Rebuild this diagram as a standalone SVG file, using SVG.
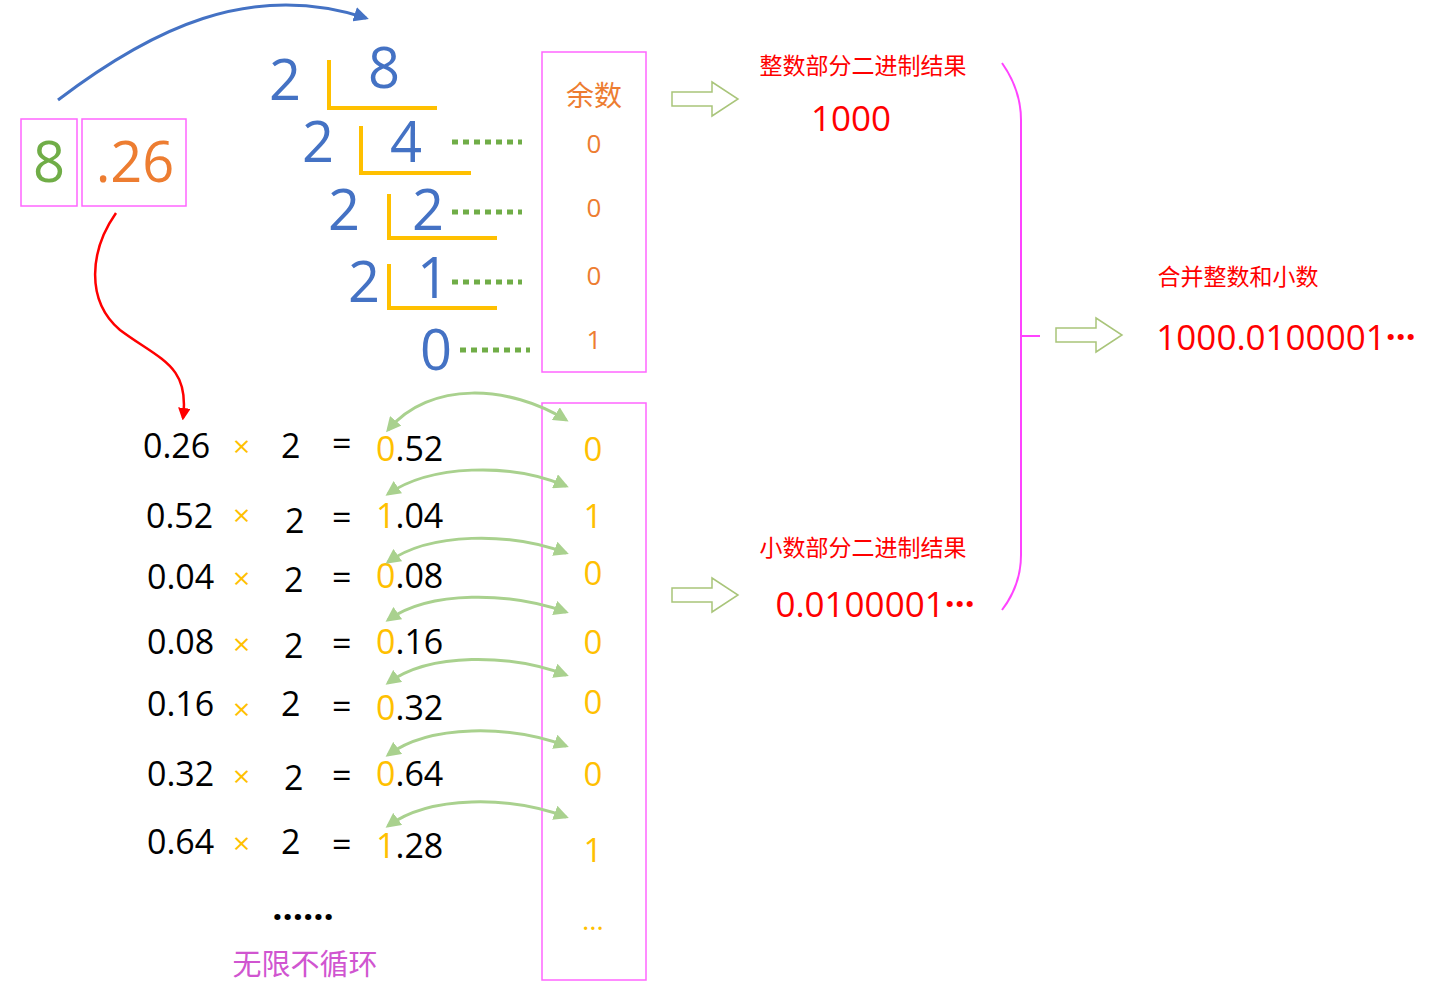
<svg xmlns="http://www.w3.org/2000/svg" width="1447" height="995" viewBox="0 0 1447 995">
<style>
text{font-family:"Open Sans","Liberation Sans","Noto Sans CJK SC",sans-serif}
.bl{fill:#4472C4;font-size:56px;text-anchor:middle}
.yl{stroke:#FFC000;stroke-width:4;fill:none}
.gd{stroke:#70AD47;stroke-width:5;stroke-dasharray:6 5;fill:none}
.pk{fill:none;stroke:#FF66FF;stroke-width:1.5}
.or{fill:#ED7D31;font-size:26px;text-anchor:middle}
.k{fill:#000;font-size:34px}
.x{fill:#FFC000;font-size:30px}
.y{fill:#FFC000}
.d{fill:#FFC000;font-size:33px;text-anchor:middle}
.ga{stroke:#A9D18E;stroke-width:3;fill:none;marker-start:url(#ga);marker-end:url(#ga)}
.r{fill:#FF0000}
.ho{fill:#fff;stroke:#A9C57A;stroke-width:1.5}
</style>
<defs>
<marker id="ga" viewBox="0 0 10 10" refX="8" refY="5" markerWidth="5" markerHeight="5" orient="auto-start-reverse"><path d="M0,0L10,5L0,10z" fill="#A9D18E"/></marker>
<marker id="ba" viewBox="0 0 10 10" refX="8" refY="5" markerWidth="5" markerHeight="5" orient="auto"><path d="M0,0L10,5L0,10z" fill="#4472C4"/></marker>
<marker id="ra" viewBox="0 0 10 10" refX="8" refY="5" markerWidth="5" markerHeight="5" orient="auto"><path d="M0,0L10,5L0,10z" fill="#FF0000"/></marker>
<path id="hol" d="M0,-7H40V-17L66,0L40,17V7H0z"/>
</defs>
<g id="source">
<rect class="pk" x="21" y="119" width="56" height="87"/>
<rect class="pk" x="82" y="119" width="104" height="87"/>
<text x="49" y="182" style="fill:#70AD47;font-size:56px;text-anchor:middle">8</text>
<text x="135" y="182" style="fill:#ED7D31;font-size:56px;text-anchor:middle">.26</text>
</g>
<g id="division">
<text class="bl" x="285" y="100">2</text><text class="bl" x="384" y="88">8</text>
<text class="bl" x="318" y="162">2</text><text class="bl" x="406" y="162">4</text>
<text class="bl" x="344" y="230">2</text><text class="bl" x="428" y="230">2</text>
<text class="bl" x="364" y="302">2</text><text class="bl" x="433" y="298">1</text>
<text class="bl" x="436" y="370">0</text>
<path class="yl" d="M329,60V108H437M361,126V173H471M389,194V238H497M389,264V308H497"/>
<path class="gd" d="M452,142H522M452,212H522M452,282H522M460,350H530"/>
</g>
<g id="remainders">
<rect class="pk" x="542" y="52" width="104" height="320"/>
<text class="or" x="594" y="106" style="font-size:28px">余数</text>
<text class="or" x="594" y="153">0</text><text class="or" x="594" y="217">0</text>
<text class="or" x="594" y="285">0</text><text class="or" x="594" y="349">1</text>
</g>
<g id="multiply">
<text class="k" x="143" y="458">0.26</text><text class="x" x="233" y="457">×</text><text class="k" x="281" y="458">2</text><text class="k" x="332" y="456">=</text><text class="k" x="376" y="461"><tspan class="y">0</tspan>.52</text>
<text class="k" x="146" y="528">0.52</text><text class="x" x="233" y="526">×</text><text class="k" x="285" y="533">2</text><text class="k" x="332" y="530">=</text><text class="k" x="376" y="528"><tspan class="y">1</tspan>.04</text>
<text class="k" x="147" y="589">0.04</text><text class="x" x="233" y="589">×</text><text class="k" x="284" y="592">2</text><text class="k" x="332" y="590">=</text><text class="k" x="376" y="588"><tspan class="y">0</tspan>.08</text>
<text class="k" x="147" y="654">0.08</text><text class="x" x="233" y="655">×</text><text class="k" x="284" y="658">2</text><text class="k" x="332" y="656">=</text><text class="k" x="376" y="654"><tspan class="y">0</tspan>.16</text>
<text class="k" x="147" y="716">0.16</text><text class="x" x="233" y="720">×</text><text class="k" x="281" y="716">2</text><text class="k" x="332" y="719">=</text><text class="k" x="376" y="720"><tspan class="y">0</tspan>.32</text>
<text class="k" x="147" y="786">0.32</text><text class="x" x="233" y="787">×</text><text class="k" x="284" y="790">2</text><text class="k" x="332" y="788">=</text><text class="k" x="376" y="786"><tspan class="y">0</tspan>.64</text>
<text class="k" x="147" y="854">0.64</text><text class="x" x="233" y="854">×</text><text class="k" x="281" y="854">2</text><text class="k" x="332" y="857">=</text><text class="k" x="376" y="858"><tspan class="y">1</tspan>.28</text>
<text x="303" y="920" style="font-size:36px;font-weight:bold;text-anchor:middle;fill:#000">……</text>
<text x="305" y="975" style="font-size:29px;text-anchor:middle;fill:#D055D0">无限不循环</text>
</g>
<g id="fraction-bits">
<rect class="pk" x="542" y="403" width="104" height="577"/>
<text class="d" x="593" y="461">0</text><text class="d" x="593" y="528">1</text><text class="d" x="593" y="585">0</text>
<text class="d" x="593" y="654">0</text><text class="d" x="593" y="714">0</text><text class="d" x="593" y="786">0</text>
<text class="d" x="593" y="862">1</text><text class="d" x="593" y="930" style="font-size:28px">…</text>
</g>
<g id="results">
<text class="r" x="863" y="74" style="font-size:23px;text-anchor:middle">整数部分二进制结果</text>
<text class="r" x="851" y="131" style="font-size:35px;text-anchor:middle">1000</text>
<text class="r" x="863" y="556" style="font-size:23px;text-anchor:middle">小数部分二进制结果</text>
<text class="r" x="875" y="617" style="font-size:35px;text-anchor:middle">0.0100001<tspan style="font-weight:bold">···</tspan></text>
<text class="r" x="1238" y="285" style="font-size:23px;text-anchor:middle">合并整数和小数</text>
<text class="r" x="1286" y="350" style="font-size:35px;text-anchor:middle">1000.0100001<tspan style="font-weight:bold">···</tspan></text>
</g>
<g id="connectors">
<path d="M58,100C150,30 250,-20 366,18" stroke="#4472C4" stroke-width="3" fill="none" marker-end="url(#ba)"/>
<path d="M116,213C90,250 85,300 120,330C160,360 190,365 183,418" stroke="#FF0000" stroke-width="2.5" fill="none" marker-end="url(#ra)"/>
<path class="ga" d="M566,420C510,385 430,380 388,430"/>
<path class="ga" d="M566,486C510,462 430,465 388,494"/>
<path class="ga" d="M566,553C510,532 430,532 388,562"/>
<path class="ga" d="M566,612C510,592 430,590 388,620"/>
<path class="ga" d="M566,675C510,654 430,652 388,683"/>
<path class="ga" d="M566,746C510,725 430,724 388,755"/>
<path class="ga" d="M566,817C510,796 430,795 388,826"/>
<use href="#hol" class="ho" x="672" y="99"/>
<use href="#hol" class="ho" x="672" y="595"/>
<use href="#hol" class="ho" x="1056" y="335"/>
<path d="M1002,63Q1021,90 1021,120V555Q1021,585 1002,610M1021,336H1040" stroke="#FF44FF" stroke-width="2" fill="none"/>
</g>
</svg>
